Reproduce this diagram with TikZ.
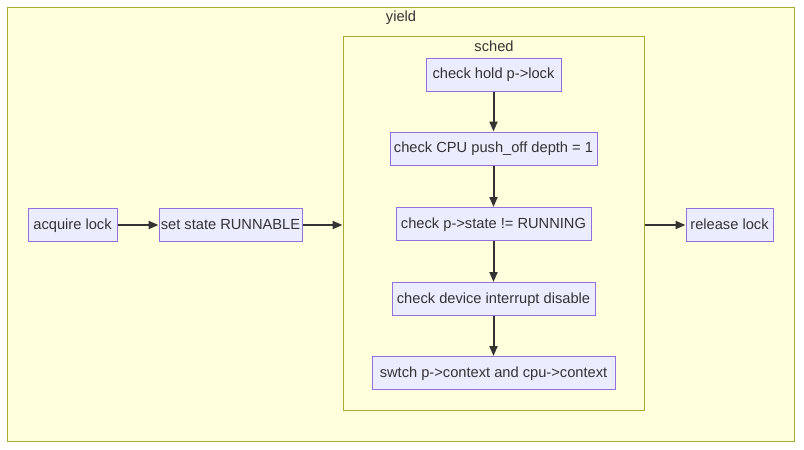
\documentclass[tikz,border=0pt]{standalone}
\usepackage{fontspec}
\setmainfont{Liberation Sans}
\usetikzlibrary{positioning, arrows.meta}
\definecolor{grpfill}{HTML}{FFFFDE}
\definecolor{grpline}{HTML}{AAAA33}
\definecolor{stfill}{HTML}{ECECFF}
\definecolor{stline}{HTML}{9370DB}
\definecolor{ink}{HTML}{333333}

\begin{document}
\begin{tikzpicture}[x=0.75pt, y=-0.75pt, >={Triangle[length=7.5pt, width=6pt]},
      font=\fontsize{11}{13}\selectfont, text=ink,
      grp/.style={draw=grpline, fill=grpfill, line width=0.75pt, inner sep=0pt},
      st/.style={draw=stline, fill=stfill, line width=0.75pt, align=center,
        minimum height=24.75pt, inner xsep=1pt, inner ysep=2pt,
        text height=7.5pt, text depth=1.5pt},
      ttl/.style={inner sep=0pt, anchor=center, text height=7.5pt, text depth=1.5pt},
      lnk/.style={->, draw=ink, line width=1.5pt}]
    \useasboundingbox (0,0) rectangle (804,450);
    % outer group
    \node[grp, minimum width=590.25pt, minimum height=325.5pt] (yield) at (400.5,224) {};
    \node[ttl] (yieldttl) at (401,17) {yield};
    % sched group
    \node[grp, minimum width=225.75pt, minimum height=280.5pt] (sched) at (493.5,223) {};
    \node[ttl] (schedttl) at (494,47) {sched};
    % outside steps
    \node[st, minimum width=66.75pt]  (acq) at (72.5,225)  {acquire lock};
    \node[st, minimum width=107.25pt] (set) at (230.5,225) {set state RUNNABLE};
    \node[st, minimum width=65.25pt]  (rel) at (729.5,225) {release lock};
    % inside sched
    \node[st, minimum width=101.25pt] (s1) at (493.5,74.5)  {check hold p->lock};
    \node[st, minimum width=155.25pt] (s2) at (493.5,148.5) {check CPU push\_off depth = 1};
    \node[st, minimum width=146.25pt] (s3) at (493.5,224)   {check p->state != RUNNING};
    \node[st, minimum width=152.25pt] (s4) at (493.5,299)   {check device interrupt disable};
    \node[st, minimum width=182.25pt] (s5) at (493.5,373)   {swtch p->context and cpu->context};
    \foreach \x/\y in {s1/s2, s2/s3, s3/s4, s4/s5} \draw[lnk] (\x) -- (\y);
    \draw[lnk] (acq) -- (set);
    \draw[lnk] (set.east) -- (sched.west |- set.east);
    \draw[lnk] (sched.east |- rel.west) -- (rel.west);
  \end{tikzpicture}
\end{document}
